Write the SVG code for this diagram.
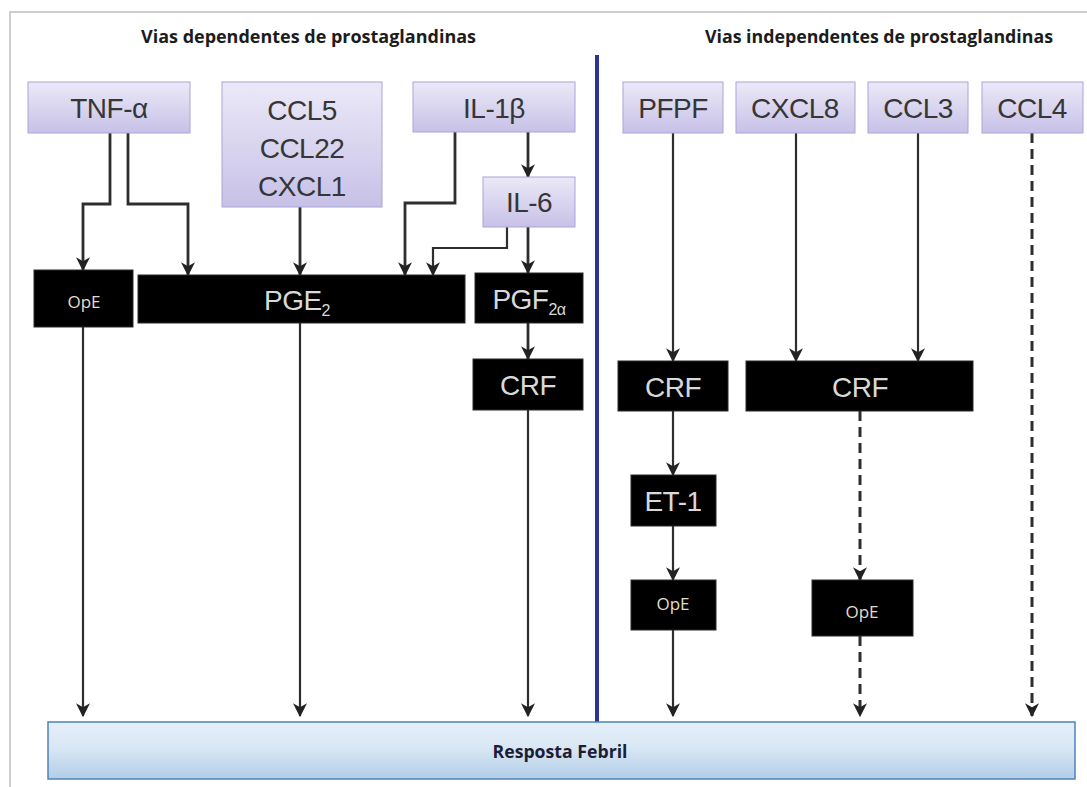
<svg xmlns="http://www.w3.org/2000/svg" width="1087" height="787" viewBox="0 0 1087 787">
  <defs>
    <linearGradient id="lav" x1="0" y1="0" x2="0" y2="1">
      <stop offset="0" stop-color="#ebe9f8"/>
      <stop offset="1" stop-color="#c7c1e7"/>
    </linearGradient>
    <linearGradient id="blu" x1="0" y1="0" x2="0" y2="1">
      <stop offset="0" stop-color="#e4eff9"/>
      <stop offset="0.45" stop-color="#d9e7f4"/>
      <stop offset="1" stop-color="#b2cde7"/>
    </linearGradient>
    <marker id="arr" viewBox="0 0 12 12" refX="11" refY="6" markerWidth="14" markerHeight="14" markerUnits="userSpaceOnUse" orient="auto">
      <path d="M0,0 L12,6 L0,12 L3.5,6 z" fill="#222222"/>
    </marker>
    <style>
      .top rect { fill: url(#lav); stroke: #aaa4d6; stroke-width: 1; }
      .top text { font-family: "Liberation Sans", Arial, sans-serif; font-size: 28px; fill: #363636; text-anchor: middle; letter-spacing: -0.5px; }
      .blk rect { fill: #000; stroke: #2a2a2a; stroke-width: 1; }
      .blk text { font-family: "Liberation Sans", Arial, sans-serif; font-size: 28px; fill: #d9d9d9; text-anchor: middle; letter-spacing: -0.5px; }
      .blk text.ope { font-family: "Open Sans", "Liberation Sans", sans-serif; font-size: 17px; fill: #e4dccb; letter-spacing: 0; }
      .title { font-family: "Open Sans", "Liberation Sans", sans-serif; font-weight: 700; font-size: 17px; fill: #1c1c1c; }
      .conn path { fill: none; stroke: #2e2e2e; stroke-width: 2.2; marker-end: url(#arr); }
      .conn path.thick { stroke-width: 2.8; }
      .conn path.dash { stroke-width: 3; stroke-dasharray: 10 6; }
    </style>
  </defs>

  <rect width="1087" height="787" fill="#ffffff"/>
  <!-- frame -->
  <path d="M10,787 L10,12 L1087,12" fill="none" stroke="#cdcdcd" stroke-width="2"/>

  <!-- titles -->
  <text class="title" x="141" y="43" textLength="335" lengthAdjust="spacingAndGlyphs">Vias dependentes de prostaglandinas</text>
  <text class="title" x="705" y="43" textLength="348" lengthAdjust="spacingAndGlyphs">Vias independentes de prostaglandinas</text>

  <!-- divider -->
  <line x1="597" y1="55" x2="597" y2="722" stroke="#2f3494" stroke-width="4"/>

  <!-- connectors -->
  <g id="connectors" class="conn">
    <path class="thick" d="M110,133 L110,204 L83,204 L83,270"/>
    <path class="thick" d="M128,133 L128,204 L188,204 L188,275"/>
    <path class="thick" d="M300,207 L300,275"/>
    <path class="thick" d="M455,132 L455,203 L405,203 L405,275"/>
    <path class="thick" d="M528,132 L528,177"/>
    <path d="M507,227 L507,248 L433,248 L433,275"/>
    <path class="thick" d="M528,227 L528,273"/>
    <path class="thick" d="M528,323 L528,359"/>
    <path d="M83,327 L83,716"/>
    <path d="M300,323 L300,716"/>
    <path d="M528,410 L528,716"/>
    <path d="M673,133 L673,361"/>
    <path d="M673,411 L673,475"/>
    <path d="M673,526 L673,580"/>
    <path d="M673,630 L673,716"/>
    <path d="M796,133 L796,361"/>
    <path d="M918,133 L918,361"/>
    <path class="dash" d="M860,411 L860,580"/>
    <path class="dash" d="M860,636 L860,716"/>
    <path class="dash" d="M1032,133 L1032,716"/>
  </g>

  <!-- top nodes -->
  <g id="tnf" class="top">
    <rect x="28" y="82" width="162" height="51"/>
    <text x="109" y="118">TNF-α</text>
  </g>
  <g id="ccl5" class="top">
    <rect x="222" y="82" width="160" height="125"/>
    <text x="302" y="120">CCL5</text>
    <text x="302" y="158">CCL22</text>
    <text x="302" y="196">CXCL1</text>
  </g>
  <g id="il1b" class="top">
    <rect x="413" y="82" width="162" height="50"/>
    <text x="494" y="118">IL-1β</text>
  </g>
  <g id="il6" class="top">
    <rect x="483" y="177" width="92" height="50"/>
    <text x="529" y="212">IL-6</text>
  </g>
  <g id="pfpf" class="top">
    <rect x="623" y="82" width="100" height="51"/>
    <text x="673" y="118">PFPF</text>
  </g>
  <g id="cxcl8" class="top">
    <rect x="736" y="82" width="119" height="51"/>
    <text x="795" y="118">CXCL8</text>
  </g>
  <g id="ccl3" class="top">
    <rect x="868" y="82" width="100" height="51"/>
    <text x="918" y="118">CCL3</text>
  </g>
  <g id="ccl4" class="top">
    <rect x="982" y="82" width="101" height="51"/>
    <text x="1032" y="118">CCL4</text>
  </g>

  <!-- black nodes -->
  <g id="ope1" class="blk">
    <rect x="34" y="270" width="99" height="57"/>
    <text class="ope" x="84" y="308">OpE</text>
  </g>
  <g id="pge2" class="blk">
    <rect x="138" y="275" width="327" height="48"/>
    <text x="297" y="310">PGE<tspan font-size="16" dy="6">2</tspan></text>
  </g>
  <g id="pgf2a" class="blk">
    <rect x="475" y="273" width="108" height="50"/>
    <text x="529" y="309">PGF<tspan font-size="16" dy="6">2α</tspan></text>
  </g>
  <g id="crf1" class="blk">
    <rect x="473" y="359" width="110" height="51"/>
    <text x="528" y="395">CRF</text>
  </g>
  <g id="crf2" class="blk">
    <rect x="618" y="361" width="110" height="50"/>
    <text x="673" y="397">CRF</text>
  </g>
  <g id="crf3" class="blk">
    <rect x="746" y="361" width="227" height="50"/>
    <text x="860" y="397">CRF</text>
  </g>
  <g id="et1" class="blk">
    <rect x="631" y="475" width="85" height="51"/>
    <text x="673" y="511">ET-1</text>
  </g>
  <g id="ope2" class="blk">
    <rect x="631" y="580" width="85" height="50"/>
    <text class="ope" x="673" y="610">OpE</text>
  </g>
  <g id="ope3" class="blk">
    <rect x="812" y="580" width="101" height="56"/>
    <text class="ope" x="862" y="618">OpE</text>
  </g>

  <!-- bottom node -->
  <g id="resposta">
    <rect x="48" y="722" width="1027" height="57" fill="url(#blu)" stroke="#4f82b8" stroke-width="1.5"/>
    <text x="560" y="758" text-anchor="middle" font-family="Open Sans, Liberation Sans, sans-serif" font-weight="700" font-size="17" fill="#1d1d35" textLength="135" lengthAdjust="spacingAndGlyphs">Resposta Febril</text>
  </g>
</svg>
